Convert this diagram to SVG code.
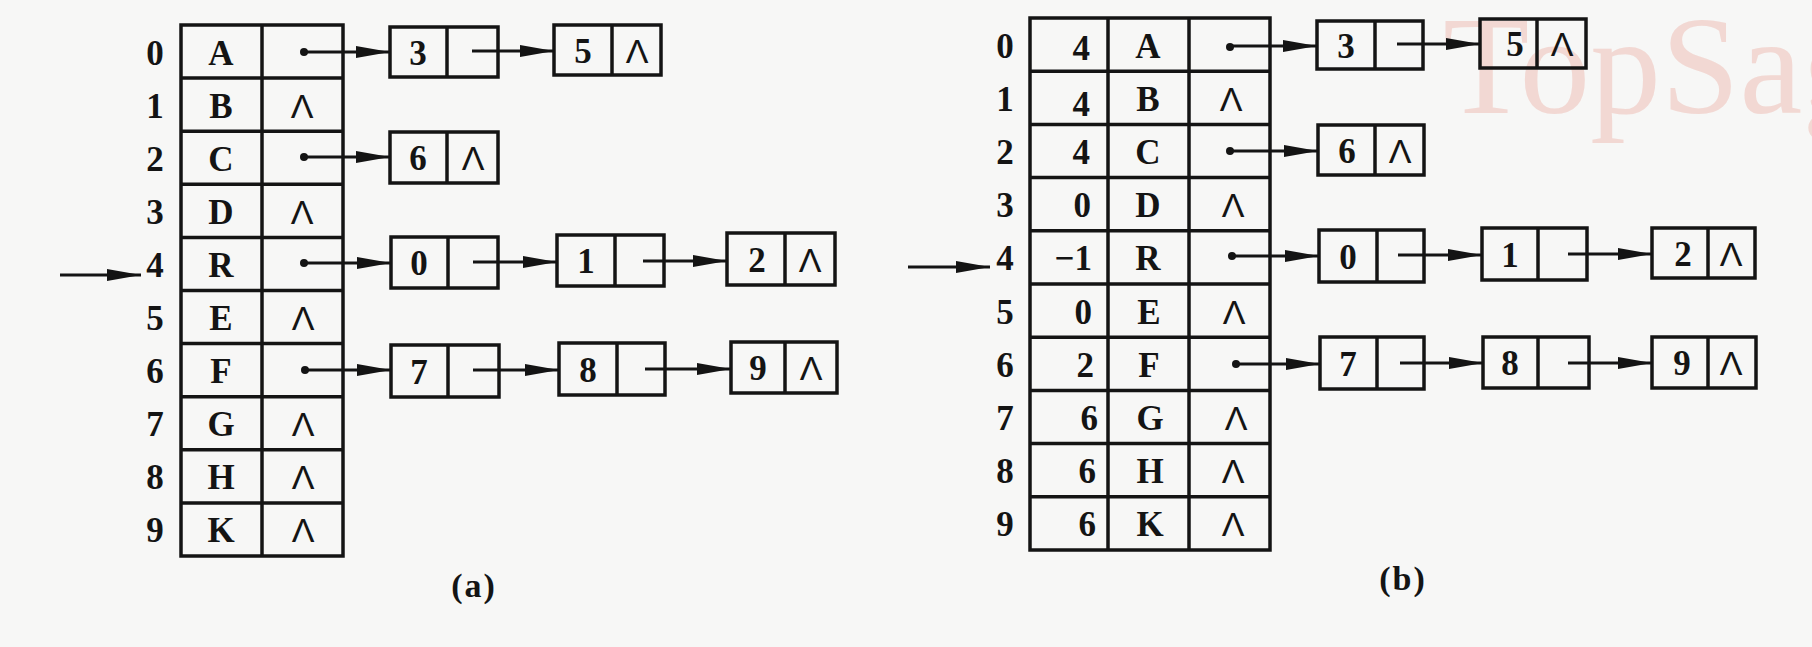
<svg xmlns="http://www.w3.org/2000/svg" width="1812" height="647" viewBox="0 0 1812 647">
<defs>
<style>
.ln{stroke:#141414;stroke-width:3.5;fill:none}
.bx{stroke:#141414;stroke-width:3.5;fill:none}
.t{font-family:"Liberation Serif",serif;font-weight:bold;font-size:35px;fill:#141414;text-anchor:middle}
.tr{font-family:"Liberation Serif",serif;font-weight:bold;font-size:35px;fill:#141414;text-anchor:end}
.nil{font-family:"Liberation Sans",sans-serif;font-size:34px;fill:#141414;text-anchor:middle}
.c{stroke:#141414;stroke-width:3;fill:none;marker-end:url(#ah)}
.dot{fill:#141414}
.cap{font-family:"Liberation Serif",serif;font-weight:bold;font-size:34px;fill:#141414;text-anchor:middle;letter-spacing:2px}
</style>
<marker id="ah" markerUnits="userSpaceOnUse" markerWidth="36" markerHeight="14" refX="34" refY="6" orient="auto" viewBox="0 0 36 14">
<path d="M0,0 L34,6 L0,12 z" fill="#141414"/>
</marker>
</defs>
<rect width="1812" height="647" fill="#f7f7f6"/>
<text x="1443" y="113" font-family="Liberation Serif, serif" font-size="140" fill="#f2d8d3" textLength="430" lengthAdjust="spacingAndGlyphs">TopSag</text>

<!-- Table (a) -->
<g id="table-a">
<rect class="bx" x="181" y="25" width="162" height="531"/>
<line class="ln" x1="262" y1="25" x2="262" y2="556"/>
<path class="ln" d="M181,78.1H343M181,131.2H343M181,184.3H343M181,237.4H343M181,290.5H343M181,343.6H343M181,396.7H343M181,449.8H343M181,502.9H343"/>
<g class="t">
<text x="155" y="64.5">0</text><text x="155" y="117.6">1</text><text x="155" y="170.7">2</text><text x="155" y="223.8">3</text><text x="155" y="276.9">4</text>
<text x="155" y="330">5</text><text x="155" y="383.1">6</text><text x="155" y="436.2">7</text><text x="155" y="489.3">8</text><text x="155" y="542.4">9</text>
<text x="221" y="64.5">A</text><text x="221" y="117.6">B</text><text x="221" y="170.7">C</text><text x="221" y="223.8">D</text><text x="221" y="276.9">R</text>
<text x="221" y="330">E</text><text x="221" y="383.1">F</text><text x="221" y="436.2">G</text><text x="221" y="489.3">H</text><text x="221" y="542.4">K</text>
</g>
<g class="nil">
<text x="302" y="117.6">Λ</text><text x="302" y="223.8">Λ</text><text x="303" y="330">Λ</text><text x="303" y="436.2">Λ</text><text x="303" y="489.3">Λ</text><text x="303" y="542.4">Λ</text>
</g>
<circle class="dot" cx="304" cy="52" r="4"/><circle class="dot" cx="304" cy="157" r="4"/><circle class="dot" cx="304" cy="263" r="4"/><circle class="dot" cx="305" cy="370" r="4"/>
</g>

<!-- List nodes (a) -->
<g id="a-n3"><rect class="bx" x="390" y="27" width="108" height="50"/><line class="ln" x1="447" y1="27" x2="447" y2="77"/><text class="t" x="418" y="65">3</text></g>
<g id="a-n5"><rect class="bx" x="554" y="25" width="107" height="50"/><line class="ln" x1="612" y1="25" x2="612" y2="75"/><text class="t" x="583" y="63">5</text><text class="nil" x="637" y="63">Λ</text></g>
<g id="a-n6"><rect class="bx" x="390" y="132" width="108" height="51"/><line class="ln" x1="447" y1="132" x2="447" y2="183"/><text class="t" x="418" y="170">6</text><text class="nil" x="473" y="170">Λ</text></g>
<g id="a-n0"><rect class="bx" x="391" y="237" width="107" height="51"/><line class="ln" x1="448" y1="237" x2="448" y2="288"/><text class="t" x="419" y="275">0</text></g>
<g id="a-n1"><rect class="bx" x="557" y="235" width="107" height="51"/><line class="ln" x1="615" y1="235" x2="615" y2="286"/><text class="t" x="586" y="273">1</text></g>
<g id="a-n2"><rect class="bx" x="727" y="233" width="108" height="52"/><line class="ln" x1="785" y1="233" x2="785" y2="285"/><text class="t" x="757" y="272">2</text><text class="nil" x="810" y="272">Λ</text></g>
<g id="a-n7"><rect class="bx" x="391" y="345" width="108" height="52"/><line class="ln" x1="448" y1="345" x2="448" y2="397"/><text class="t" x="419" y="384">7</text></g>
<g id="a-n8"><rect class="bx" x="559" y="343" width="106" height="52"/><line class="ln" x1="617" y1="343" x2="617" y2="395"/><text class="t" x="588" y="382">8</text></g>
<g id="a-n9"><rect class="bx" x="731" y="342" width="106" height="51"/><line class="ln" x1="785" y1="342" x2="785" y2="393"/><text class="t" x="758" y="380">9</text><text class="nil" x="811" y="380">Λ</text></g>

<!-- Table (b) -->
<g id="table-b">
<rect class="bx" x="1030" y="18" width="240" height="532"/>
<path class="ln" d="M1108,18V550M1189,18V550"/>
<path class="ln" d="M1030,71.2H1270M1030,124.4H1270M1030,177.6H1270M1030,230.8H1270M1030,284H1270M1030,337.2H1270M1030,390.4H1270M1030,443.6H1270M1030,496.8H1270"/>
<g class="t">
<text x="1005" y="57.6">0</text><text x="1005" y="110.8">1</text><text x="1005" y="164">2</text><text x="1005" y="217.2">3</text><text x="1005" y="270.4">4</text>
<text x="1005" y="323.6">5</text><text x="1005" y="376.8">6</text><text x="1005" y="430">7</text><text x="1005" y="483.2">8</text><text x="1005" y="536.4">9</text>
<text x="1148" y="57.6">A</text><text x="1148" y="110.8">B</text><text x="1148" y="164">C</text><text x="1148" y="217.2">D</text><text x="1148" y="270.4">R</text>
<text x="1149" y="323.6">E</text><text x="1149" y="376.8">F</text><text x="1150" y="430">G</text><text x="1150" y="483.2">H</text><text x="1150" y="536.4">K</text>
</g>
<g class="tr">
<text x="1090" y="60">4</text><text x="1090" y="116">4</text><text x="1090" y="164">4</text><text x="1091" y="217.2">0</text><text x="1092" y="270.4">−1</text>
<text x="1092" y="323.6">0</text><text x="1094" y="376.8">2</text><text x="1098" y="430">6</text><text x="1096" y="483.2">6</text><text x="1096" y="536.4">6</text>
</g>
<g class="nil">
<text x="1231" y="110.8">Λ</text><text x="1233" y="217.2">Λ</text><text x="1234" y="323.6">Λ</text><text x="1236" y="430">Λ</text><text x="1233" y="483.2">Λ</text><text x="1233" y="536.4">Λ</text>
</g>
<circle class="dot" cx="1230" cy="47" r="4"/><circle class="dot" cx="1230" cy="151" r="4"/><circle class="dot" cx="1232" cy="256" r="4"/><circle class="dot" cx="1236" cy="364" r="4"/>
</g>

<!-- List nodes (b) -->
<g id="b-n3"><rect class="bx" x="1317" y="21" width="106" height="48"/><line class="ln" x1="1375" y1="21" x2="1375" y2="69"/><text class="t" x="1346" y="58">3</text></g>
<g id="b-n5"><rect class="bx" x="1480" y="19" width="106" height="49"/><line class="ln" x1="1537" y1="19" x2="1537" y2="68"/><text class="t" x="1515" y="56">5</text><text class="nil" x="1562" y="56">Λ</text></g>
<g id="b-n6"><rect class="bx" x="1318" y="125" width="106" height="50"/><line class="ln" x1="1375" y1="125" x2="1375" y2="175"/><text class="t" x="1347" y="163">6</text><text class="nil" x="1400" y="163">Λ</text></g>
<g id="b-n0"><rect class="bx" x="1319" y="230" width="105" height="52"/><line class="ln" x1="1377" y1="230" x2="1377" y2="282"/><text class="t" x="1348" y="269">0</text></g>
<g id="b-n1"><rect class="bx" x="1482" y="228" width="105" height="52"/><line class="ln" x1="1538" y1="228" x2="1538" y2="280"/><text class="t" x="1510" y="267">1</text></g>
<g id="b-n2"><rect class="bx" x="1652" y="228" width="103" height="50"/><line class="ln" x1="1708" y1="228" x2="1708" y2="278"/><text class="t" x="1683" y="266">2</text><text class="nil" x="1731" y="266">Λ</text></g>
<g id="b-n7"><rect class="bx" x="1320" y="337" width="104" height="52"/><line class="ln" x1="1377" y1="337" x2="1377" y2="389"/><text class="t" x="1348" y="376">7</text></g>
<g id="b-n8"><rect class="bx" x="1483" y="337" width="106" height="51"/><line class="ln" x1="1538" y1="337" x2="1538" y2="388"/><text class="t" x="1510" y="375">8</text></g>
<g id="b-n9"><rect class="bx" x="1652" y="337" width="104" height="51"/><line class="ln" x1="1708" y1="337" x2="1708" y2="388"/><text class="t" x="1682" y="375">9</text><text class="nil" x="1731" y="375">Λ</text></g>

<!-- Connectors -->
<g id="connectors">
<line class="c" x1="60" y1="275" x2="141" y2="275"/>
<line class="c" x1="304" y1="52" x2="390" y2="52"/>
<line class="c" x1="472" y1="51" x2="554" y2="51"/>
<line class="c" x1="304" y1="157" x2="390" y2="157"/>
<line class="c" x1="304" y1="263" x2="391" y2="263"/>
<line class="c" x1="473" y1="262" x2="557" y2="262"/>
<line class="c" x1="643" y1="261" x2="727" y2="261"/>
<line class="c" x1="305" y1="370" x2="391" y2="370"/>
<line class="c" x1="473" y1="370" x2="559" y2="370"/>
<line class="c" x1="645" y1="369" x2="731" y2="369"/>
<line class="c" x1="908" y1="267" x2="990" y2="267"/>
<line class="c" x1="1230" y1="46" x2="1317" y2="46"/>
<line class="c" x1="1397" y1="44" x2="1480" y2="44"/>
<line class="c" x1="1230" y1="151" x2="1318" y2="151"/>
<line class="c" x1="1232" y1="256" x2="1319" y2="256"/>
<line class="c" x1="1398" y1="255" x2="1482" y2="255"/>
<line class="c" x1="1568" y1="254" x2="1652" y2="254"/>
<line class="c" x1="1236" y1="364" x2="1320" y2="364"/>
<line class="c" x1="1400" y1="363" x2="1483" y2="363"/>
<line class="c" x1="1568" y1="363" x2="1652" y2="363"/>
</g>

<text class="cap" x="474" y="597">(a)</text>
<text class="cap" x="1403" y="590">(b)</text>
</svg>
